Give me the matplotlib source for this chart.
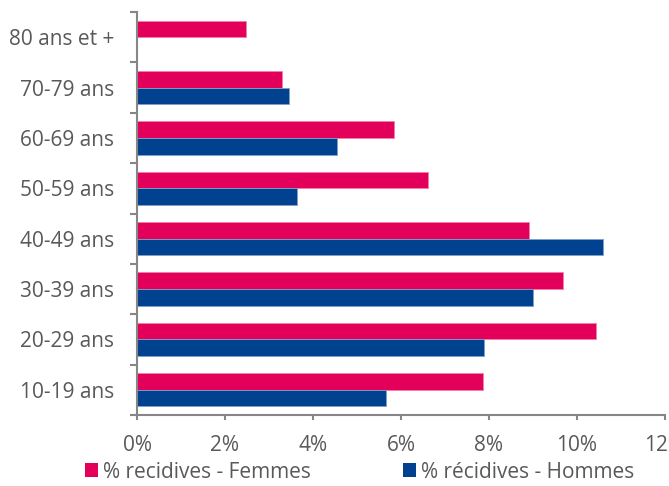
import matplotlib
matplotlib.use("Agg")
import matplotlib.pyplot as plt
from matplotlib.patches import Patch
import numpy as np

categories = ["10-19 ans", "20-29 ans", "30-39 ans", "40-49 ans",
              "50-59 ans", "60-69 ans", "70-79 ans", "80 ans et +"]
femmes = [7.86, 10.43, 9.68, 8.92, 6.62, 5.85, 3.29, 2.48]
hommes = [5.66, 7.88, 9.01, 10.60, 3.63, 4.54, 3.45, 0.0]
xticks = [0, 2, 4, 6, 8, 10, 12]
xtick_labels = ["0%", "2%", "4%", "6%", "8%", "10%", "12%"]
series_names = ["% recidives - Femmes", "% récidives - Hommes"]

c_f = "#E3005A"
c_h = "#004190"
gray = "#595959"
axis_gray = "#868686"
fs = 15

plt.rcParams['font.family'] = ['Open Sans', 'DejaVu Sans']

fig = plt.figure(figsize=(6.69, 4.86), dpi=100)
ax = fig.add_axes([137/669, 1-415/486, (665-137)/669, (415-12)/486])

y = np.arange(len(categories))
h = 0.33
ax.barh(y + h/2, femmes, height=h, color=c_f, edgecolor="#F27FA8", linewidth=0.6)
ax.barh(y - h/2, hommes, height=h, color=c_h, edgecolor="#7FA0C8", linewidth=0.6)

ax.set_xlim(0, 12)
ax.set_ylim(-0.5, len(categories) - 0.5)

ax.set_xticks(xticks)
ax.set_xticklabels(xtick_labels, color=gray, fontsize=fs)
ax.tick_params(axis='x', direction='out', length=3.6, width=1.5, color=axis_gray, pad=11)

ax.set_yticks(np.arange(-0.5, len(categories), 1.0))
ax.set_yticklabels([])
ax.set_yticks(y, minor=True)
ax.set_yticklabels(categories, minor=True, color=gray, fontsize=fs)
ax.tick_params(axis='y', which='major', direction='out', length=5, width=1.5, color=axis_gray)
ax.tick_params(axis='y', which='minor', length=0, pad=16.5)

for s in ['top', 'right']:
    ax.spines[s].set_visible(False)
for s in ['left', 'bottom']:
    ax.spines[s].set_color(axis_gray)
    ax.spines[s].set_linewidth(1.5)

handles = [Patch(facecolor=c_f), Patch(facecolor=c_h)]
for hd, name, x0 in zip(handles, series_names, [85, 403]):
    leg = fig.legend([hd], [name], loc='center left', bbox_to_anchor=(x0/669, 1-472/486),
                     frameon=False, fontsize=fs, labelcolor=gray,
                     handlelength=0.62, handleheight=0.62, handletextpad=0.25,
                     borderaxespad=0, borderpad=0)

fig.savefig("out.png", dpi=100)
